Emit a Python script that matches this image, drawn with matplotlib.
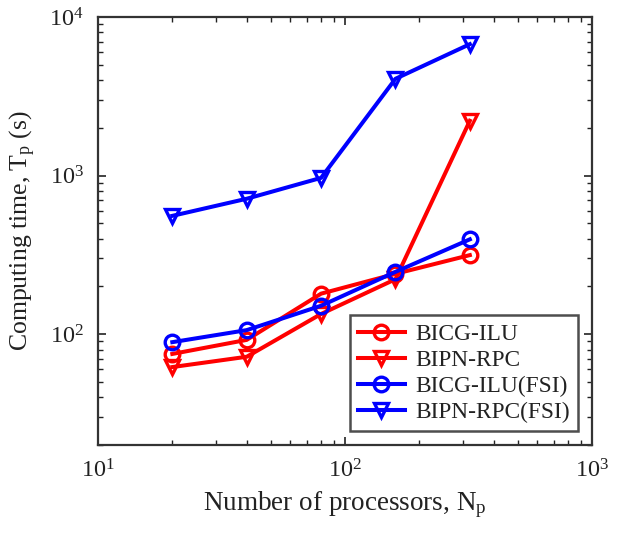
import matplotlib
matplotlib.use("Agg")
import matplotlib.pyplot as plt
from matplotlib.ticker import LogLocator, NullFormatter

plt.rcParams['font.family'] = ['Liberation Serif', 'DejaVu Serif']
plt.rcParams['mathtext.fontset'] = 'custom'
plt.rcParams['mathtext.rm'] = 'Liberation Serif'
plt.rcParams['mathtext.it'] = 'Liberation Serif:italic'

processors = [20, 40, 80, 160, 320]
bicg_ilu = [75, 92, 180, 240, 315]
bipn_rpc = [62, 72, 134, 222, 2215]
bicg_ilu_fsi = [89, 106, 151, 247, 396]
bipn_rpc_fsi = [557, 714, 967, 4075, 6736]

series = [
    ("BICG-ILU", bicg_ilu, "#ff0000", "o"),
    ("BIPN-RPC", bipn_rpc, "#ff0000", "v"),
    ("BICG-ILU(FSI)", bicg_ilu_fsi, "#0000ff", "o"),
    ("BIPN-RPC(FSI)", bipn_rpc_fsi, "#0000ff", "v"),
]

fig = plt.figure(figsize=(6.2, 5.47), dpi=100)
ax = fig.add_axes([0.158, 0.1865, 0.797, 0.7825])

for name, vals, col, mk in series:
    ax.plot(processors, vals, color=col, marker=mk, lw=2.9, ms=10.5,
            mfc='none', mec=col, mew=2.4, label=name)

ax.set_xscale('log')
ax.set_yscale('log')
ax.set_xlim(10, 1000)
ax.set_ylim(20, 1e4)
ax.xaxis.set_major_locator(LogLocator(base=10, numticks=10))
ax.yaxis.set_major_locator(LogLocator(base=10, numticks=10))
ax.xaxis.set_minor_locator(LogLocator(base=10, subs=range(2, 10), numticks=20))
ax.yaxis.set_minor_locator(LogLocator(base=10, subs=range(2, 10), numticks=20))
ax.xaxis.set_minor_formatter(NullFormatter())
ax.yaxis.set_minor_formatter(NullFormatter())

ax.tick_params(which='both', direction='in', top=True, right=True, labelsize=17.5, colors='#222222')
ax.tick_params(which='major', length=6, width=1.2, pad=10)
ax.tick_params(which='minor', length=3.5, width=1.0)
for s in ax.spines.values():
    s.set_linewidth(1.6)
    s.set_color('#333333')

ax.set_xlabel(r'Number of processors, N$_\mathrm{p}$', fontsize=19.5, color='#222222', labelpad=5)
ax.set_ylabel(r'Computing time, T$_\mathrm{p}$ (s)', fontsize=18.5, color='#222222', labelpad=8)

leg = ax.legend(loc='lower right', fontsize=16.8, frameon=True, fancybox=False,
                edgecolor='#222222', handlelength=2.0, borderpad=0.35,
                labelspacing=0.2, handletextpad=0.45, borderaxespad=0.6)
leg.get_frame().set_linewidth(1.8)
for t in leg.get_texts():
    t.set_color('#222222')

fig.savefig("out.png", dpi=100)
